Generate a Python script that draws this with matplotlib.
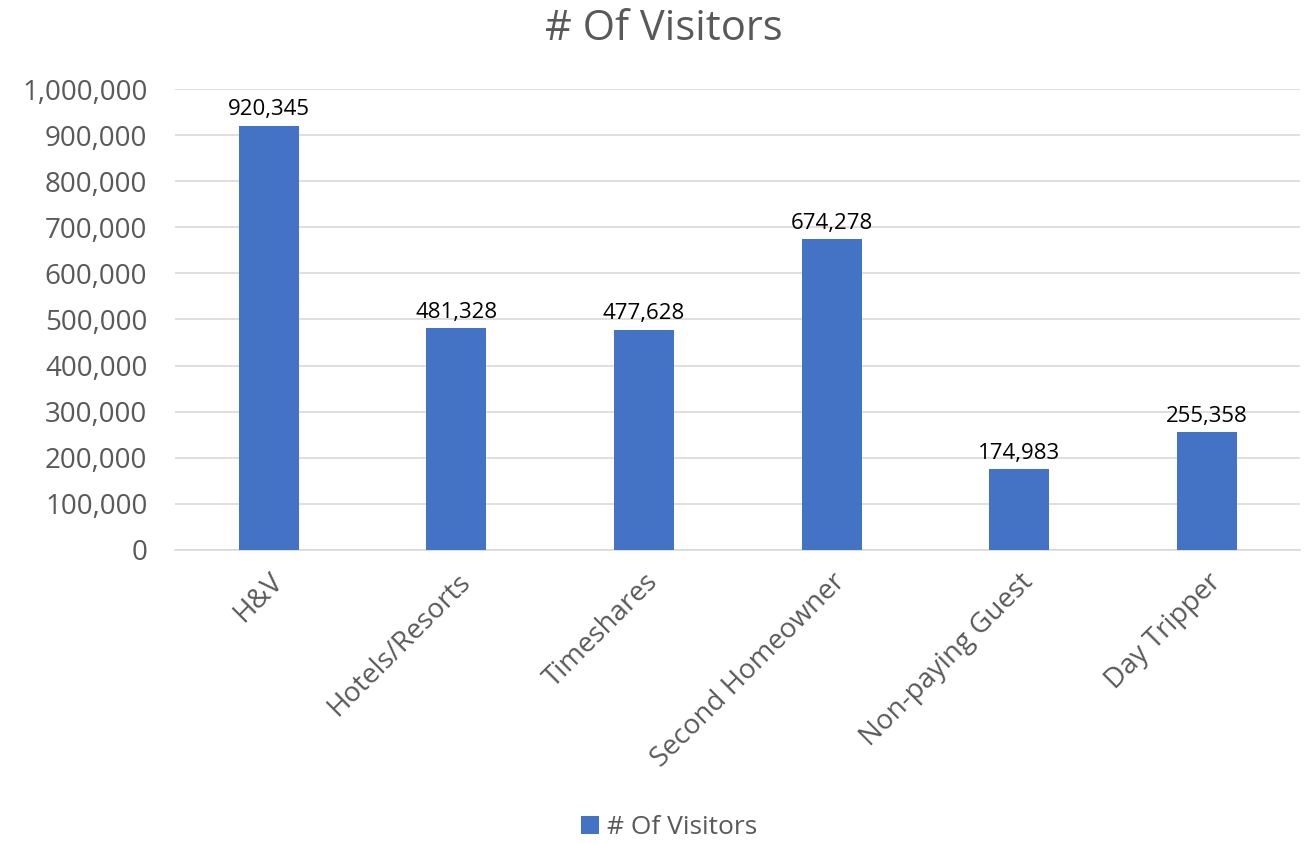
import matplotlib.pyplot as plt
from matplotlib.ticker import FuncFormatter

categories = ["H&V", "Hotels/Resorts", "Timeshares", "Second Homeowner",
              "Non-paying Guest", "Day Tripper"]
visitors = [920345, 481328, 477628, 674278, 174983, 255358]
series_name = "# Of Visitors"

plt.rcParams['font.family'] = ['Open Sans', 'DejaVu Sans']

fig = plt.figure(figsize=(13.07, 8.43), dpi=100)
ax = fig.add_axes([0.134, 0.3476, 0.861, 0.5468])

x = range(len(categories))
bars = ax.bar(x, visitors, width=0.32, color="#4472C4", label=series_name, zorder=3)

for b, v in zip(bars, visitors):
    ax.text(b.get_x() + b.get_width() / 2, v + 12000, f"{v:,}",
            ha="center", va="bottom", fontsize=16, color="black")

ax.set_xlim(-0.5, len(categories) - 0.5)
ax.set_ylim(0, 1000000)
ax.set_yticks(range(0, 1000001, 100000))
ax.yaxis.set_major_formatter(FuncFormatter(lambda v, p: f"{int(v):,}"))
ax.grid(axis="y", color="#D9D9D9", linewidth=1.2, zorder=0)
for s in ["top", "right", "left"]:
    ax.spines[s].set_visible(False)
ax.spines["bottom"].set_color("#D9D9D9")
ax.spines["bottom"].set_linewidth(1.2)
ax.tick_params(axis="both", length=0, labelsize=20, colors="#595959")
ax.tick_params(axis="y", pad=20)
ax.tick_params(axis="x", pad=13)

ax.set_xticks(list(x))
ax.set_xticklabels(categories, rotation=45, ha="right", rotation_mode="anchor")

fig.suptitle(series_name, x=0.508, y=0.99, fontsize=30, color="#595959")
fig.legend(loc="center", bbox_to_anchor=(0.512, 0.018), frameon=False,
           fontsize=19, labelcolor="#595959", handlelength=0.7,
           handleheight=0.7, handletextpad=0.3)

fig.savefig("out.png", dpi=100)
